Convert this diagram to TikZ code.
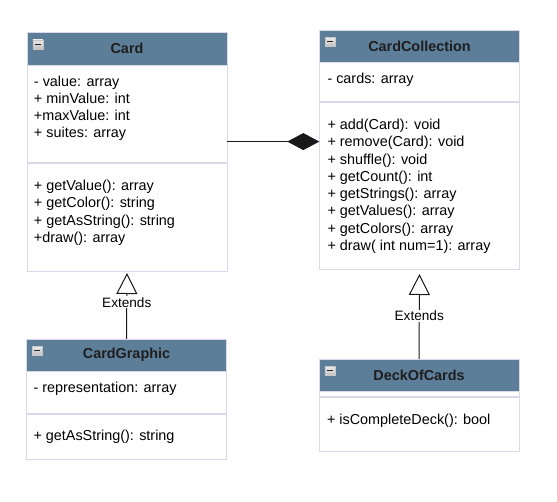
\documentclass[tikz,border=0pt]{standalone}
\usepackage{fontspec}
\setmainfont{Liberation Sans}
\usetikzlibrary{arrows.meta,positioning}
\definecolor{umlHeadBlue}{RGB}{93,126,153}
\definecolor{umlBorder}{RGB}{218,216,235}
\definecolor{umlTitle}{RGB}{30,30,30}
\definecolor{umlLine}{RGB}{25,25,25}

\begin{document}
\begin{tikzpicture}[
  x=1pt, y=-1pt,
  classhead/.style={
    draw=umlBorder,
    fill=umlHeadBlue,
    minimum width=200pt,
    minimum height=32pt,
    inner sep=0pt,
    text=umlTitle,
    font=\bfseries\fontsize{14.4}{17}\selectfont
  },
  classpart/.style={
    draw=umlBorder,
    fill=white,
    minimum width=200pt,
    inner sep=0pt
  },
  members/.style={
    anchor=north west,
    align=left,
    inner sep=0pt,
    font=\fontsize{14.4}{17.3}\selectfont
  },
  collapse/.style={
    draw=gray!45,
    top color=gray!15,
    bottom color=gray!50,
    minimum width=10pt,
    minimum height=9pt,
    inner sep=0pt,
    path picture={\draw[line width=1.3pt,black!85]
      ([xshift=2pt]path picture bounding box.west) --
      ([xshift=-2pt]path picture bounding box.east);}
  },
  extends/.style={
    draw=umlLine,
    line width=1pt,
    -{Triangle[open,length=21pt,width=21pt]}
  },
  composition/.style={
    draw=umlLine,
    line width=1pt,
    -{Diamond[length=32pt,width=17pt]}
  },
  linklabel/.style={
    fill=white,
    inner sep=1pt,
    font=\fontsize{13.6}{16}\selectfont
  }
]
  \useasboundingbox (0,0) rectangle (557,502);

  % Card
  \node[classhead,minimum height=33pt] (card-head) at (127,48.5) {Card};
  \node[classpart,minimum height=97pt,below=0pt of card-head] (card-attr) {};
  \node[classpart,minimum height=108pt,below=0pt of card-attr] (card-meth) {};
  \node[collapse] (card-toggle) at ([xshift=11pt,yshift=-12.5pt]card-head.north west) {};
  \node[members] (card-fields) at ([xshift=7pt,yshift=-10.2pt]card-attr.north west)
    {- value: array\\+ minValue: int\\+maxValue: int\\+ suites: array};
  \node[members] (card-ops) at ([xshift=7pt,yshift=-17.2pt]card-meth.north west)
    {+ getValue(): array\\+ getColor(): string\\+ getAsString(): string\\+draw(): array};

  % CardCollection
  \node[classhead] (coll-head) at (419.5,46) {CardCollection};
  \node[classpart,minimum height=39pt,below=0pt of coll-head] (coll-attr) {};
  \node[classpart,minimum height=167pt,below=0pt of coll-attr] (coll-meth) {};
  \node[collapse] (coll-toggle) at ([xshift=11pt,yshift=-12pt]coll-head.north west) {};
  \node[members] (coll-fields) at ([xshift=8pt,yshift=-10.2pt]coll-attr.north west)
    {- cards: array};
  \node[members] (coll-ops) at ([xshift=8pt,yshift=-17.2pt]coll-meth.north west)
    {+ add(Card): void\\+ remove(Card): void\\+ shuffle(): void\\+ getCount(): int\\
     + getStrings(): array\\+ getValues(): array\\+ getColors(): array\\+ draw( int num=1): array};

  % CardGraphic
  \node[classhead] (graphic-head) at (126.5,355) {CardGraphic};
  \node[classpart,minimum height=42pt,below=0pt of graphic-head] (graphic-attr) {};
  \node[classpart,minimum height=45pt,below=0pt of graphic-attr] (graphic-meth) {};
  \node[collapse] (graphic-toggle) at ([xshift=11pt,yshift=-12pt]graphic-head.north west) {};
  \node[members] (graphic-fields) at ([xshift=7pt,yshift=-10.2pt]graphic-attr.north west)
    {- representation: array};
  \node[members] (graphic-ops) at ([xshift=7pt,yshift=-16.2pt]graphic-meth.north west)
    {+ getAsString(): string};

  % DeckOfCards
  \node[classhead] (deck-head) at (419,375) {DeckOfCards};
  \node[classpart,minimum height=5pt,below=0pt of deck-head] (deck-attr) {};
  \node[classpart,minimum height=54pt,below=0pt of deck-attr] (deck-meth) {};
  \node[collapse] (deck-toggle) at ([xshift=11pt,yshift=-12pt]deck-head.north west) {};
  \node[members] (deck-ops) at ([xshift=8pt,yshift=-17.2pt]deck-meth.north west)
    {+ isCompleteDeck(): bool};

  % relations
  \coordinate (card-link) at ([yshift=21pt]card-attr.south east);
  \draw[composition] (card-link) -- (card-link -| coll-meth.west);
  \draw[extends,shorten >=2pt] (graphic-head.north) --
    node[linklabel,pos=0.536] (graphic-extends) {Extends} (card-meth.south);
  \draw[extends,shorten >=5pt] (deck-head.north) --
    node[linklabel,pos=0.48] (deck-extends) {Extends} (coll-meth.south);
\end{tikzpicture}
\end{document}
